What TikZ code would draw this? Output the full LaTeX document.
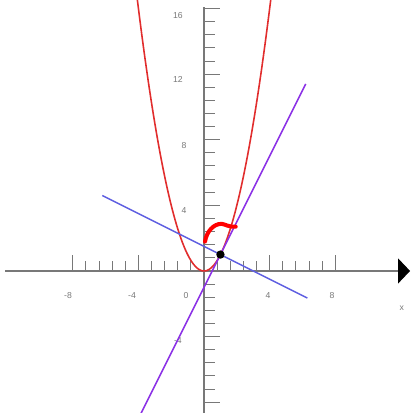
\documentclass[tikz,border=0pt]{standalone}
\usepackage{fontspec}
\setmainfont{Liberation Sans}
\usepackage{xcolor}
\usetikzlibrary{arrows.meta}

\definecolor{parabolared}{RGB}{225,45,45}
\definecolor{tangentpurple}{RGB}{140,50,230}
\definecolor{normalblue}{RGB}{95,95,225}
\definecolor{axisgray}{RGB}{120,120,120}
\definecolor{labelgray}{RGB}{120,120,120}

\begin{document}
\begin{tikzpicture}[x=0.4cm, y=0.4cm, font=\fontsize{6}{7}\selectfont,
  axisline/.style={draw=axisgray, line width=0.8pt},
  tickline/.style={draw=axisgray, line width=0.7pt},
  ticklabel/.style={text=labelgray, inner sep=0pt}]
\useasboundingbox (-12.44,-8.66) rectangle (12.62,16.52);
\clip (-12.44,-8.66) rectangle (12.62,16.52);
% axes
\coordinate (xstart) at (-12.13,0);
\coordinate (xtip) at (12.56,0);
\coordinate (ytop) at (0,16.1);
\coordinate (ybottom) at (0,-8.9);
\draw[axisline, -{Triangle[length=8.3pt, width=17.3pt, color=black]}] (xstart) -- (xtip);
\draw[axisline] (ybottom) -- (ytop);
\foreach \i in {-10,...,10}
  \draw[tickline] (0.8*\i,0) -- ++(0,{mod(\i,5)==0 ? 1.0 : 0.62});
\foreach \i in {-10,...,20}
  \draw[tickline] (0,0.8*\i) -- ++({mod(\i,5)==0 ? 1.0 : 0.65},0);
% tick labels
\node[ticklabel] (xm8) at (-8.29,-1.52) {-8};
\node[ticklabel] (xm4) at (-4.39,-1.52) {-4};
\node[ticklabel] (x0) at (-1.10,-1.52) {0};
\node[ticklabel] (x4) at (3.90,-1.52) {4};
\node[ticklabel] (x8) at (7.80,-1.52) {8};
\node[ticklabel] (xname) at (12.05,-2.27) {x};
\node[ticklabel] (y16) at (-1.59,15.6) {16};
\node[ticklabel] (y12) at (-1.59,11.65) {12};
\node[ticklabel] (y8) at (-1.22,7.62) {8};
\node[ticklabel] (y4) at (-1.22,3.66) {4};
\node[ticklabel] (ym4) at (-1.59,-4.27) {-4};
% curves
\draw[parabolared, line width=1.1pt, domain=-4.1:4.1, samples=120, smooth] plot (\x,{\x*\x});
\coordinate (nleft) at (-6.2,4.6);
\coordinate (nright) at (6.3,-1.65);
\draw[normalblue, line width=1pt] (nleft) -- (nright);
\coordinate (tlow) at (-4,-9);
\coordinate (thigh) at (6.2,11.4);
\draw[tangentpurple, line width=1.1pt] (tlow) -- (thigh);
\draw[red, line width=2.8pt, line cap=round] (0.06,1.79) .. controls (0.15,2.4) and (0.6,2.9) .. (1.08,2.87) .. controls (1.3,2.85) and (1.45,2.68) .. (1.93,2.7);
\node[circle, fill=black, inner sep=0pt, minimum size=5.8pt] (tpt) at (1,1) {};
\end{tikzpicture}
\end{document}
